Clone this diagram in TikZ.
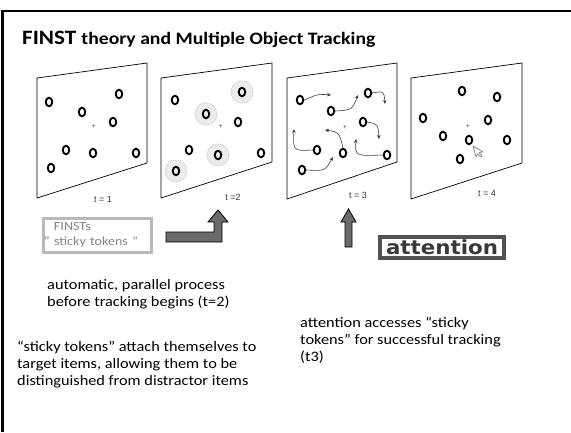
\documentclass[tikz,border=0pt]{standalone}
\usepackage{fontspec}
\setmainfont{Carlito}[FakeStretch=1.13]
\newfontfamily\panelfont{Liberation Sans}
\newfontfamily\boxfont{DejaVu Sans}[FakeStretch=1.1]
\usepackage{tikz}
\usetikzlibrary{shapes.geometric, arrows.meta}

\tikzset{
  panel/.style={draw, line width=0.7bp},
  obj/.style={draw, ellipse, line width=1.9bp, minimum width=6.5bp, minimum height=8.5bp, inner sep=0pt},
  halo/.style={fill=gray!15, draw=gray!35, densely dotted, line width=0.8bp},
  fix/.style={font=\panelfont\fontsize{7}{7}\selectfont, text=black!70, inner sep=0pt},
  track/.style={draw=black!75, line width=0.6bp, -{Stealth[length=4bp, width=3.5bp]}},
  tlabel/.style={font=\panelfont\fontsize{9}{10}\selectfont, text=black!80, inner sep=0pt},
  bodytext/.style={font=\fontsize{14.5}{17}\selectfont, align=left, anchor=base west, inner sep=0pt},
  blockarrow/.style={fill=black!58, draw=black, line width=0.8bp, line join=miter},
  finstbox/.style={draw=gray!55, line width=3bp, minimum width=108bp, minimum height=34bp,
    text width=106bp, align=left, inner sep=0.5bp, text=black!48, font=\fontsize{12.5}{15}\selectfont},
  attnbox/.style={draw=black!68, line width=4.5bp, minimum width=124bp, minimum height=21bp,
    inner sep=0pt, text=black!78, font=\boxfont\bfseries\fontsize{19.5}{20}\selectfont}
}

\begin{document}
\begin{tikzpicture}[x=1bp, y=-1bp]

\useasboundingbox ( 0, 0 ) rectangle ( 571, 432 );

% Slide frame
\draw [line width=2.5bp] ( 2.75, 432 ) -- ( 2.75, 10.8 ) -- ( 571, 10.8 );

% Title
\node (title) [anchor=base west, inner sep=0pt] at ( 22, 44 )
  {\bfseries\fontsize{20.5}{22}\selectfont FINST \fontsize{17.5}{20}\selectfont theory and Multiple Object Tracking};

% Display panels
\draw [panel] ( 37, 78 ) -- ( 147, 63 ) -- ( 147, 163 ) -- ( 37, 198 ) -- cycle;
\draw [panel] ( 161, 78 ) -- ( 272, 63 ) -- ( 272, 162 ) -- ( 161, 198 ) -- cycle;
\draw [panel] ( 287, 78 ) -- ( 397, 63 ) -- ( 397, 162 ) -- ( 287, 199 ) -- cycle;
\draw [panel] ( 411, 78 ) -- ( 522, 63 ) -- ( 522, 163 ) -- ( 411, 199 ) -- cycle;

\node (t1) [tlabel] at ( 103, 199 ) {t = 1};
\node (t2) [tlabel] at ( 233, 197 ) {t =2};
\node (t3) [tlabel] at ( 358, 195 ) {t = 3};
\node (t4) [tlabel] at ( 487, 193 ) {t = 4};

% t = 1
\node (p1a) [obj] at ( 49, 102 ) {};
\node (p1b) [obj] at ( 82, 112 ) {};
\node (p1c) [obj] at ( 119, 94 ) {};
\node (p1d) [obj] at ( 113, 122 ) {};
\node (p1x) [fix] at ( 94, 126 ) {+};
\node (p1e) [obj] at ( 66, 150 ) {};
\node (p1f) [obj] at ( 93, 153 ) {};
\node (p1g) [obj] at ( 136, 153 ) {};
\node (p1h) [obj] at ( 51, 168 ) {};

% t = 2, targets get tokens
\fill [halo] ( 242, 92 ) circle ( 11 );
\fill [halo] ( 206, 114 ) circle ( 11 );
\fill [halo] ( 218, 155 ) circle ( 11 );
\fill [halo] ( 176, 171 ) circle ( 11 );
\draw [halo, fill=none] ( 242, 92 ) circle ( 11 );
\draw [halo, fill=none] ( 206, 114 ) circle ( 11 );
\draw [halo, fill=none] ( 218, 155 ) circle ( 11 );
\draw [halo, fill=none] ( 176, 171 ) circle ( 11 );
\node (p2a) [obj] at ( 175, 100 ) {};
\node (p2b) [obj] at ( 242, 92 ) {};
\node (p2c) [obj] at ( 206, 114 ) {};
\node (p2d) [obj] at ( 238, 122 ) {};
\node (p2x) [fix] at ( 221, 126 ) {+};
\node (p2e) [obj] at ( 189, 150 ) {};
\node (p2f) [obj] at ( 218, 155 ) {};
\node (p2g) [obj] at ( 261, 153 ) {};
\node (p2h) [obj] at ( 176, 171 ) {};

% t = 3, objects move
\node (p3a) [obj] at ( 300, 100 ) {};
\node (p3b) [obj] at ( 331, 111 ) {};
\node (p3c) [obj] at ( 368, 93 ) {};
\node (p3d) [obj] at ( 363, 122 ) {};
\node (p3x) [fix] at ( 345, 127 ) {+};
\node (p3e) [obj] at ( 317, 150 ) {};
\node (p3f) [obj] at ( 343, 153 ) {};
\node (p3g) [obj] at ( 387, 155 ) {};
\node (p3h) [obj] at ( 302, 170 ) {};

\coordinate (m3a) at ( 331, 95 );
\coordinate (m3b) at ( 358, 95 );
\coordinate (m3c) at ( 385, 104 );
\coordinate (m3d) at ( 379, 139 );
\coordinate (m3e) at ( 294, 129 );
\coordinate (m3f) at ( 325, 130 );
\coordinate (m3g) at ( 356, 139 );
\coordinate (m3h) at ( 333, 157 );

\draw [track] (p3a.east) .. controls ( 318, 94 ) .. (m3a);
\draw [track] (p3b.east) .. controls ( 352, 110 ) .. (m3b);
\draw [track] (p3c.east) .. controls ( 384, 91 ) .. (m3c);
\draw [track] (p3d.east) .. controls ( 378, 124 ) .. (m3d);
\draw [track] (p3e.west) .. controls ( 293, 151 ) .. (m3e);
\draw [track] (p3f.north) .. controls ( 339, 132 ) .. (m3f);
\draw [track] (p3g.west) .. controls ( 355, 156 ) .. (m3g);
\draw [track] (p3h.east) .. controls ( 325, 171 ) .. (m3h);

% t = 4, probe
\node (p4a) [obj] at ( 462, 91 ) {};
\node (p4b) [obj] at ( 497, 97 ) {};
\node (p4c) [obj] at ( 423, 118 ) {};
\node (p4d) [obj] at ( 488, 120 ) {};
\node (p4x) [fix] at ( 468, 126 ) {+};
\node (p4e) [obj] at ( 443, 136 ) {};
\node (p4f) [obj] at ( 469, 140 ) {};
\node (p4g) [obj] at ( 507, 140 ) {};
\node (p4h) [obj] at ( 460, 159 ) {};

% mouse pointer
\draw [fill=white, draw=black!55, line width=0.6bp, line join=round, shift={( 473, 146 )}, rotate=15]
  ( 0, 0 ) -- ( 0, 11 ) -- ( 2.6, 8.6 ) -- ( 4.3, 12.5 ) -- ( 6, 11.8 ) -- ( 4.3, 8 ) -- ( 7.8, 8 ) -- cycle;

% FINSTs and attention
\node (finst) [finstbox] at ( 97, 235 ) {\hspace*{10bp}FINSTs\\" sticky tokens "};
\node (attn) [attnbox] at ( 442, 247.5 ) {attention};

\draw [blockarrow] ( 166, 232 ) -- ( 214, 232 ) -- ( 214, 222 ) -- ( 208, 222 ) -- ( 218, 210 )
  -- ( 228, 222 ) -- ( 222, 222 ) -- ( 222, 242 ) -- ( 166, 242 ) -- cycle;
\draw [blockarrow] ( 345, 247 ) -- ( 345, 222 ) -- ( 341, 222 ) -- ( 348.5, 209 ) -- ( 356, 222 )
  -- ( 352, 222 ) -- ( 352, 247 ) -- cycle;

% Notes
\node (auto) [bodytext] at ( 47, 306 ) {automatic, parallel process\\before tracking begins (t=2)};
\node (sticky) [bodytext] at ( 17, 385 ) {“sticky tokens” attach themselves to\\target items, allowing them to be\\distinguished from distractor items};
\node (access) [bodytext] at ( 300, 361 ) {attention accesses “sticky\\tokens” for successful tracking\\(t3)};

\end{tikzpicture}
\end{document}
